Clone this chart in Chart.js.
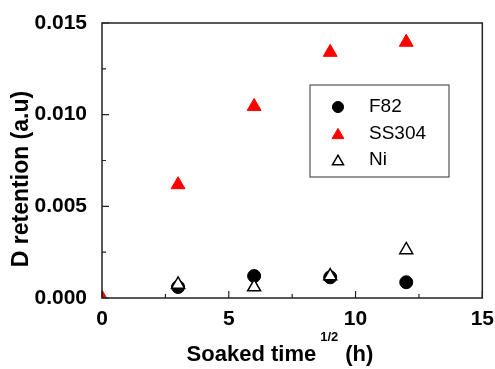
<!DOCTYPE html>
<html>
<head>
<meta charset="utf-8">
<script src="https://cdn.jsdelivr.net/npm/chart.js@4/dist/chart.umd.min.js"></script>
<style>
  html, body { margin: 0; padding: 0; background: #fff; }
  #wrap { width: 495px; height: 369px; }
</style>
</head>
<body>
<div id="wrap"><canvas id="chart" width="495" height="369"></canvas></div>
<script>
// soaked time^(1/2) values
var soakTimes = [0, 3, 6, 9, 12];
var f82 = [null, 0.00060, 0.00120, 0.00113, 0.00086];
var ss304 = [0, 0.00618, 0.01045, 0.01340, 0.01395];
var ni = [null, 0.00074, 0.00060, 0.00120, 0.00262];
var seriesNames = ["F82", "SS304", "Ni"];
var xTicks = [0, 5, 10, 15];
var yTicks = [0, 0.005, 0.010, 0.015];

function toPoints(ys) {
  return soakTimes.map(function (x, i) { return { x: x, y: ys[i] }; });
}

var AXIS = '#222';
var FAM = '"Liberation Sans", Arial, sans-serif';
var noClip = { left: 0, top: 0, right: 0, bottom: 0 };

// inward ticks, frame, axis titles and boxed legend
var decor = {
  id: 'decor',
  afterDraw: function (chart) {
    var c = chart.ctx, a = chart.chartArea;
    var xs = chart.scales.x, ys = chart.scales.y;
    c.save();
    c.strokeStyle = AXIS;
    c.lineWidth = 1.5;
    c.strokeRect(a.left, a.top, a.right - a.left, a.bottom - a.top);

    c.lineWidth = 1.2;
    c.beginPath();
    for (var v = 0; v <= 15; v += 2.5) {
      var px = xs.getPixelForValue(v);
      var len = (v % 5 === 0) ? 7 : 4;
      c.moveTo(px, a.bottom);
      c.lineTo(px, a.bottom - len);
    }
    for (var k = 0; k <= 6; k++) {
      var py = ys.getPixelForValue(k * 0.0025);
      var l2 = (k % 2 === 0) ? 7 : 4;
      c.moveTo(a.left, py);
      c.lineTo(a.left + l2, py);
    }
    c.stroke();

    // y title
    c.fillStyle = '#000';
    c.font = 'bold 23px ' + FAM;
    c.textAlign = 'center';
    c.textBaseline = 'middle';
    c.save();
    c.translate(22, 179);
    c.rotate(-Math.PI / 2);
    c.fillText('D retention (a.u)', 0, 0);
    c.restore();

    // x title with superscript
    c.textAlign = 'left';
    c.textBaseline = 'alphabetic';
    var main = 'Soaked time';
    var sup = '1/2';
    var tail = '(h)';
    var big = 'bold 22px ' + FAM;
    var small = 'bold 13px ' + FAM;
    var gap1 = 4, gap2 = 7;
    c.font = big;
    var w1 = c.measureText(main).width;
    var w3 = c.measureText(tail).width;
    c.font = small;
    var w2 = c.measureText(sup).width;
    var x0 = 280 - (w1 + gap1 + w2 + gap2 + w3) / 2;
    var base = 361;
    c.font = big;
    c.fillText(main, x0, base);
    c.font = small;
    c.fillText(sup, x0 + w1 + gap1, base - 20);
    c.font = big;
    c.fillText(tail, x0 + w1 + gap1 + w2 + gap2, base);

    // legend
    var bx = 310, by = 85, bw = 139, bh = 92;
    c.fillStyle = '#fff';
    c.fillRect(bx, by, bw, bh);
    c.strokeStyle = '#333';
    c.lineWidth = 1;
    c.strokeRect(bx, by, bw, bh);
    c.font = '19px ' + FAM;
    c.textBaseline = 'middle';
    chart.data.datasets.forEach(function (ds, i) {
      var cy = 107 + i * 26.5;
      var r = ds.pointRadius * 0.85;
      c.fillStyle = ds.backgroundColor;
      c.strokeStyle = ds.borderColor;
      c.lineWidth = ds.borderWidth;
      Chart.helpers.drawPoint(c, {
        pointStyle: ds.pointStyle, radius: r, borderWidth: ds.borderWidth
      }, 338, cy + (ds.pointStyle === 'triangle' ? r / 4 : 0));
      c.fillStyle = '#000';
      c.fillText(ds.label, 369, cy);
    });
    c.restore();
  }
};

new Chart(document.getElementById('chart'), {
  type: 'scatter',
  data: {
    datasets: [
      { label: seriesNames[0], data: toPoints(f82), pointStyle: 'circle', pointRadius: 6.5,
        backgroundColor: '#000', borderColor: '#000', borderWidth: 1, order: 2, clip: noClip },
      { label: seriesNames[1], data: toPoints(ss304), pointStyle: 'triangle', pointRadius: 8,
        backgroundColor: '#ff0000', borderColor: '#ff0000', borderWidth: 1, order: 3, clip: noClip },
      { label: seriesNames[2], data: toPoints(ni), pointStyle: 'triangle', pointRadius: 7.5,
        backgroundColor: '#fff', borderColor: '#000', borderWidth: 1.5, order: 1, clip: noClip }
    ]
  },
  options: {
    responsive: false,
    animation: false,
    events: [],
    layout: { padding: { left: 0, right: 0, top: 23, bottom: 0 } },
    plugins: { legend: { display: false }, tooltip: { enabled: false } },
    scales: {
      x: {
        type: 'linear', min: 0, max: 15,
        afterBuildTicks: function (s) { s.ticks = xTicks.map(function (v) { return { value: v }; }); },
        afterFit: function (s) { s.height = 71; },
        grid: { display: false },
        border: { display: false },
        ticks: { color: '#000', font: { family: FAM, size: 21, weight: 'bold' }, padding: 1, maxRotation: 0 }
      },
      y: {
        type: 'linear', min: 0, max: 0.015,
        afterBuildTicks: function (s) { s.ticks = yTicks.map(function (v) { return { value: v }; }); },
        afterFit: function (s) { s.width = 102; },
        grid: { display: false },
        border: { display: false },
        ticks: { color: '#000', font: { family: FAM, size: 21, weight: 'bold' }, padding: 7,
          callback: function (v) { return v.toFixed(3); } }
      }
    }
  },
  plugins: [decor]
});
</script>
</body>
</html>
